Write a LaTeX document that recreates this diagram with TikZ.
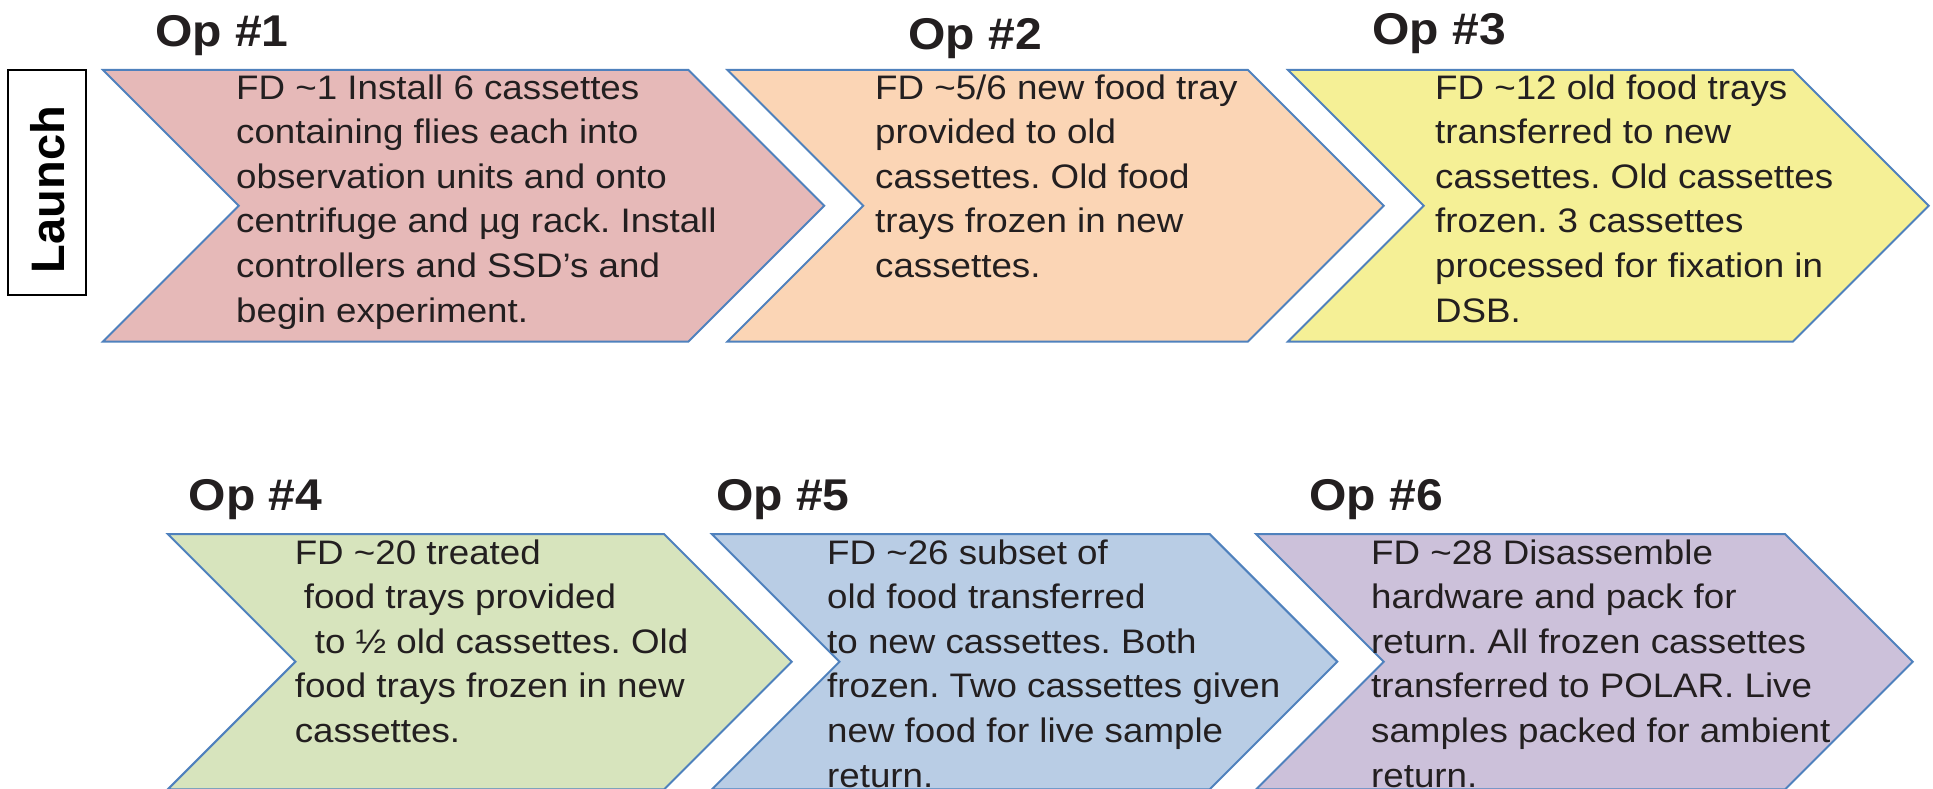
\documentclass[tikz,border=0pt]{standalone}
\usepackage{fontspec}
\setmainfont{Liberation Sans}[FakeStretch=1.08]
\newfontfamily\launchfont{Liberation Sans}
\frenchspacing

\definecolor{opA}{HTML}{E6B9B8}
\definecolor{opB}{HTML}{FBD5B5}
\definecolor{opC}{HTML}{F5F096}
\definecolor{opD}{HTML}{D7E4BD}
\definecolor{opE}{HTML}{B9CDE5}
\definecolor{opF}{HTML}{CCC1DA}
\definecolor{chevline}{HTML}{4F81BD}
\definecolor{inkgray}{HTML}{231F20}

\tikzset{
  chev/.style={draw=chevline, line width=2pt},
  % base of a multi-line node is its last line
  optext/.style={anchor=base west, inner sep=0, align=left, text=inkgray,
    font=\fontsize{34}{44.6}\selectfont},
  ophead/.style={anchor=base west, inner sep=0, text=inkgray,
    font=\bfseries\fontsize{44.5}{50}\selectfont}
}

\begin{document}
\begin{tikzpicture}[x=1pt,y=-1pt]
\useasboundingbox (0,0) rectangle (1933,789);
\clip (0,0) rectangle (1933,789);

\draw[line width=2pt] (8,70) rectangle (85.5,295);
\node[rotate=90, inner sep=0, font=\launchfont\bfseries\fontsize{47}{50}\selectfont] (launch) at (48,189.5) {Launch};

% top row
\filldraw[chev, fill=opA] (103,70) -- ++(585.5,0) -- ++(135.75,135.75) -- ++(-135.75,135.75) -- ++(-585.5,0) -- ++(135.75,-135.75) -- cycle;
\filldraw[chev, fill=opB] (727.5,70) -- ++(520.5,0) -- ++(135.75,135.75) -- ++(-135.75,135.75) -- ++(-520.5,0) -- ++(135.75,-135.75) -- cycle;
\filldraw[chev, fill=opC] (1288,70) -- ++(505,0) -- ++(135.75,135.75) -- ++(-135.75,135.75) -- ++(-505,0) -- ++(135.75,-135.75) -- cycle;

% bottom row
\filldraw[chev, fill=opD] (167.7,534) -- ++(496.3,0) -- ++(127.7,127.7) -- ++(-127.7,127.7) -- ++(-496.3,0) -- ++(127.7,-127.7) -- cycle;
\filldraw[chev, fill=opE] (711.8,534) -- ++(497.8,0) -- ++(127.7,127.7) -- ++(-127.7,127.7) -- ++(-497.8,0) -- ++(127.7,-127.7) -- cycle;
\filldraw[chev, fill=opF] (1256,534) -- ++(529,0) -- ++(127.7,127.7) -- ++(-127.7,127.7) -- ++(-529,0) -- ++(127.7,-127.7) -- cycle;

\node[ophead] (op1) at (155,47) {Op \#1};
\node[ophead] (op2) at (908,50) {Op \#2};
\node[ophead] (op3) at (1372,45) {Op \#3};
\node[ophead] (op4) at (188.6,510) {Op \#4};
\node[ophead] (op5) at (716,510) {Op \#5};
\node[ophead] (op6) at (1309,510) {Op \#6};

\node[optext] (fd1) at (236,322) {FD \textasciitilde1 Install 6 cassettes\\containing flies each into\\observation units and onto\\centrifuge and µg rack. Install\\controllers and SSD’s and\\begin experiment.};
\node[optext] (fd2) at (875,277.4) {FD \textasciitilde5/6 new food tray\\provided to old\\cassettes. Old food\\trays frozen in new\\cassettes.};
\node[optext] (fd3) at (1435,322) {FD \textasciitilde12 old food trays\\transferred to new\\cassettes. Old cassettes\\frozen. 3 cassettes\\processed for fixation in\\DSB.};
\node[optext] (fd4) at (294.6,742.4) {FD \textasciitilde20 treated\\\hspace*{9pt}food trays provided\\\hspace*{20pt}to ½ old cassettes. Old\\food trays frozen in new\\cassettes.};
\node[optext] (fd5) at (827,787) {FD \textasciitilde26 subset of\\old food transferred\\to new cassettes. Both\\frozen. Two cassettes given\\new food for live sample\\return.};
\node[optext] (fd6) at (1371,787) {FD \textasciitilde28 Disassemble\\hardware and pack for\\return. All frozen cassettes\\transferred to POLAR. Live\\samples packed for ambient\\return.};
\end{tikzpicture}
\end{document}
